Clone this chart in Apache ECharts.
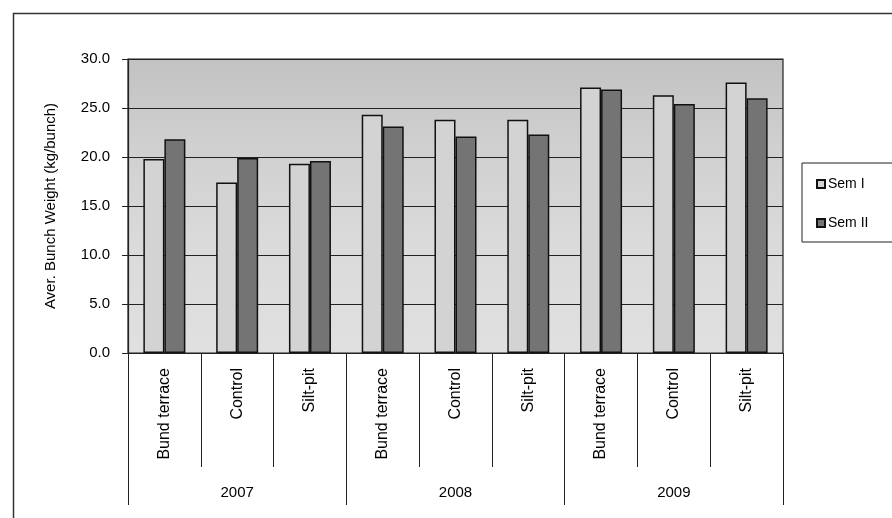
<!DOCTYPE html>
<html>
<head>
<meta charset="utf-8">
<script src="https://cdn.jsdelivr.net/npm/echarts@6/dist/echarts.min.js"></script>
<style>
html,body{margin:0;padding:0;background:#fff;}
#c{width:892px;height:518px;}
</style>
</head>
<body>
<div id="c"></div>
<script>
const categories = ['Bund terrace','Control','Silt-pit','Bund terrace','Control','Silt-pit','Bund terrace','Control','Silt-pit'];
const years = ['2007','2008','2009'];
const semI  = [19.8, 17.4, 19.3, 24.3, 23.8, 23.8, 27.1, 26.3, 27.6];
const semII = [21.8, 19.9, 19.6, 23.1, 22.1, 22.3, 26.9, 25.4, 26.0];
const yTicks = {min: 0, max: 30, interval: 5};

const font = 'Liberation Sans, Arial, sans-serif';
const chart = echarts.init(document.getElementById('c'));
chart.setOption({
  animation: false,
  backgroundColor: '#ffffff',
  textStyle: {fontFamily: font},
  graphic: [{
    type: 'rect', left: 11, top: 11, silent: true,
    shape: {width: 900, height: 530},
    style: {fill: 'none', stroke: '#333', lineWidth: 1.5}
  }],
  grid: {
    left: 128, top: 59, width: 655, height: 294,
    show: true,
    borderColor: '#222', borderWidth: 1.2,
    backgroundColor: {
      type: 'linear', x: 0, y: 0, x2: 0, y2: 1,
      colorStops: [
        {offset: 0, color: '#c2c2c2'},
        {offset: 0.3, color: '#d0d0d0'},
        {offset: 0.65, color: '#dbdbdb'},
        {offset: 1, color: '#e0e0e0'}
      ]
    }
  },
  legend: {
    orient: 'vertical',
    left: 802, top: 163,
    padding: [14, 30, 12, 14],
    itemGap: 25,
    itemWidth: 8, itemHeight: 8,
    icon: 'rect',
    borderColor: '#222', borderWidth: 1,
    backgroundColor: '#fff',
    textStyle: {fontFamily: font, fontSize: 14, color: '#000', padding: [0, 0, 0, -2]},
    data: ['Sem I', 'Sem II']
  },
  xAxis: [{
    type: 'category',
    data: categories,
    position: 'bottom',
    axisLine: {show: true, lineStyle: {color: '#222', width: 1.2}},
    axisTick: {show: true, length: 114, lineStyle: {color: '#222', width: 1}},
    axisLabel: {rotate: 90, margin: 15, fontSize: 16, color: '#000', fontFamily: font, interval: 0},
    splitLine: {show: false}
  }, {
    type: 'category',
    data: years,
    position: 'bottom',
    axisLine: {show: false},
    axisTick: {show: true, length: 152, lineStyle: {color: '#222', width: 1}},
    axisLabel: {margin: 132, fontSize: 15, color: '#000', fontFamily: font},
    splitLine: {show: false}
  }],
  yAxis: {
    type: 'value',
    min: yTicks.min, max: yTicks.max, interval: yTicks.interval,
    name: 'Aver. Bunch Weight (kg/bunch)',
    nameLocation: 'middle',
    nameGap: 70,
    nameTextStyle: {fontSize: 15, color: '#000', fontFamily: font},
    axisLine: {show: true, lineStyle: {color: '#222', width: 1.2}},
    axisTick: {show: true, length: 6, lineStyle: {color: '#222'}},
    axisLabel: {margin: 18, fontSize: 15, color: '#000', fontFamily: font,
      formatter: v => v.toFixed(1)},
    splitLine: {show: true, lineStyle: {color: '#222', width: 1.2}}
  },
  series: [{
    name: 'Sem I', type: 'bar', xAxisIndex: 0,
    data: semI, barWidth: 21, barGap: '0%',
    itemStyle: {color: '#d3d3d3', borderColor: '#111', borderWidth: 1.5}
  }, {
    name: 'Sem II', type: 'bar', xAxisIndex: 0,
    data: semII, barWidth: 21, barGap: '0%',
    itemStyle: {color: '#747474', borderColor: '#111', borderWidth: 1.5}
  }]
});
</script>
</body>
</html>
